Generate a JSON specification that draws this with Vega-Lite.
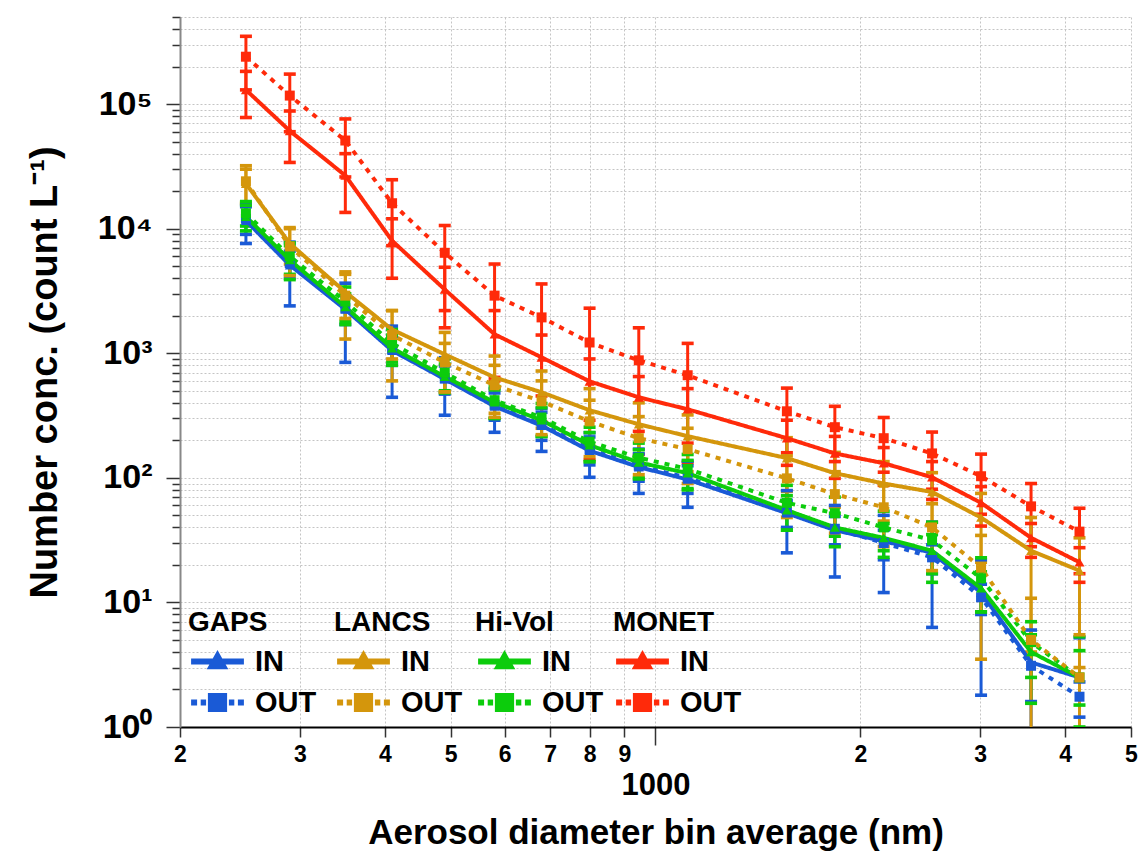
{
  "$schema": "https://vega.github.io/schema/vega-lite/v6.json",
  "width": 951,
  "height": 710,
  "autosize": {"type": "none"},
  "padding": {"left": 180, "top": 17, "right": 10, "bottom": 130},
  "background": "white",
  "config": {
    "view": {"stroke": null},
    "font": "Liberation Sans, Arial, sans-serif",
    "axis": {"labelFont": "Liberation Sans, Arial, sans-serif", "titleFont": "Liberation Sans, Arial, sans-serif"},
    "legend": {"labelFont": "Liberation Sans, Arial, sans-serif", "titleFont": "Liberation Sans, Arial, sans-serif"}
  },
  "data": {
    "values": [
      {"inst":"MONET","type":"IN","d":250,"v":130000,"lo":78000,"hi":183000},
      {"inst":"MONET","type":"IN","d":290,"v":61000,"lo":34000,"hi":88000},
      {"inst":"MONET","type":"IN","d":350,"v":26700,"lo":13500,"hi":40000},
      {"inst":"MONET","type":"IN","d":410,"v":8000,"lo":4000,"hi":12000},
      {"inst":"MONET","type":"IN","d":490,"v":3250,"lo":1600,"hi":4900},
      {"inst":"MONET","type":"IN","d":580,"v":1420,"lo":640,"hi":2200},
      {"inst":"MONET","type":"IN","d":680,"v":927,"lo":454,"hi":1400},
      {"inst":"MONET","type":"IN","d":800,"v":595,"lo":290,"hi":900},
      {"inst":"MONET","type":"IN","d":945,"v":443,"lo":236,"hi":650},
      {"inst":"MONET","type":"IN","d":1115,"v":355,"lo":190,"hi":520},
      {"inst":"MONET","type":"IN","d":1560,"v":208,"lo":126,"hi":290},
      {"inst":"MONET","type":"IN","d":1835,"v":157,"lo":99,"hi":215},
      {"inst":"MONET","type":"IN","d":2165,"v":131,"lo":87,"hi":175},
      {"inst":"MONET","type":"IN","d":2550,"v":101,"lo":67,"hi":135},
      {"inst":"MONET","type":"IN","d":3010,"v":63,"lo":41,"hi":85},
      {"inst":"MONET","type":"IN","d":3565,"v":33,"lo":23,"hi":43},
      {"inst":"MONET","type":"IN","d":4200,"v":21,"lo":14.5,"hi":27.5},
      {"inst":"MONET","type":"OUT","d":250,"v":240000,"lo":130000,"hi":350000},
      {"inst":"MONET","type":"OUT","d":290,"v":117000,"lo":60000,"hi":174000},
      {"inst":"MONET","type":"OUT","d":350,"v":51000,"lo":26000,"hi":76000},
      {"inst":"MONET","type":"OUT","d":410,"v":16000,"lo":7300,"hi":24700},
      {"inst":"MONET","type":"OUT","d":490,"v":6400,"lo":2200,"hi":10600},
      {"inst":"MONET","type":"OUT","d":580,"v":2900,"lo":600,"hi":5200},
      {"inst":"MONET","type":"OUT","d":680,"v":1940,"lo":280,"hi":3600},
      {"inst":"MONET","type":"OUT","d":800,"v":1220,"lo":140,"hi":2300},
      {"inst":"MONET","type":"OUT","d":945,"v":877,"lo":154,"hi":1600},
      {"inst":"MONET","type":"OUT","d":1115,"v":666,"lo":132,"hi":1200},
      {"inst":"MONET","type":"OUT","d":1560,"v":342,"lo":159,"hi":525},
      {"inst":"MONET","type":"OUT","d":1835,"v":255,"lo":135,"hi":375},
      {"inst":"MONET","type":"OUT","d":2165,"v":208,"lo":111,"hi":305},
      {"inst":"MONET","type":"OUT","d":2550,"v":157,"lo":81,"hi":233},
      {"inst":"MONET","type":"OUT","d":3010,"v":103,"lo":51,"hi":155},
      {"inst":"MONET","type":"OUT","d":3565,"v":59,"lo":28,"hi":90},
      {"inst":"MONET","type":"OUT","d":4200,"v":37,"lo":17,"hi":57},
      {"inst":"GAPS","type":"IN","d":250,"v":11600,"lo":7600,"hi":15600},
      {"inst":"GAPS","type":"IN","d":290,"v":5100,"lo":2400,"hi":7800},
      {"inst":"GAPS","type":"IN","d":350,"v":2250,"lo":845,"hi":3650},
      {"inst":"GAPS","type":"IN","d":410,"v":1050,"lo":443,"hi":1650},
      {"inst":"GAPS","type":"IN","d":490,"v":620,"lo":318,"hi":920},
      {"inst":"GAPS","type":"IN","d":580,"v":375,"lo":232,"hi":520},
      {"inst":"GAPS","type":"IN","d":680,"v":262,"lo":163,"hi":360},
      {"inst":"GAPS","type":"IN","d":800,"v":165,"lo":101,"hi":230},
      {"inst":"GAPS","type":"IN","d":945,"v":122,"lo":75,"hi":170},
      {"inst":"GAPS","type":"IN","d":1115,"v":97,"lo":58,"hi":136},
      {"inst":"GAPS","type":"IN","d":1560,"v":52,"lo":25,"hi":79},
      {"inst":"GAPS","type":"IN","d":1835,"v":38,"lo":16,"hi":60},
      {"inst":"GAPS","type":"IN","d":2165,"v":31,"lo":12,"hi":50},
      {"inst":"GAPS","type":"IN","d":2550,"v":25,"lo":6.3,"hi":44},
      {"inst":"GAPS","type":"IN","d":3010,"v":12,"lo":1.8,"hi":22},
      {"inst":"GAPS","type":"IN","d":3565,"v":3.3,"lo":0.6,"hi":6},
      {"inst":"GAPS","type":"IN","d":4200,"v":2.5,"lo":0.1,"hi":5.2},
      {"inst":"GAPS","type":"OUT","d":250,"v":12000,"lo":9000,"hi":15000},
      {"inst":"GAPS","type":"OUT","d":290,"v":5300,"lo":4000,"hi":6600},
      {"inst":"GAPS","type":"OUT","d":350,"v":2300,"lo":1700,"hi":2900},
      {"inst":"GAPS","type":"OUT","d":410,"v":1080,"lo":800,"hi":1360},
      {"inst":"GAPS","type":"OUT","d":490,"v":630,"lo":470,"hi":790},
      {"inst":"GAPS","type":"OUT","d":580,"v":385,"lo":290,"hi":480},
      {"inst":"GAPS","type":"OUT","d":680,"v":268,"lo":200,"hi":336},
      {"inst":"GAPS","type":"OUT","d":800,"v":170,"lo":127,"hi":213},
      {"inst":"GAPS","type":"OUT","d":945,"v":125,"lo":94,"hi":156},
      {"inst":"GAPS","type":"OUT","d":1115,"v":100,"lo":75,"hi":125},
      {"inst":"GAPS","type":"OUT","d":1560,"v":53,"lo":40,"hi":66},
      {"inst":"GAPS","type":"OUT","d":1835,"v":39,"lo":29,"hi":49},
      {"inst":"GAPS","type":"OUT","d":2165,"v":30,"lo":22,"hi":38},
      {"inst":"GAPS","type":"OUT","d":2550,"v":23,"lo":17,"hi":29},
      {"inst":"GAPS","type":"OUT","d":3010,"v":11,"lo":8,"hi":14},
      {"inst":"GAPS","type":"OUT","d":3565,"v":3.1,"lo":1.6,"hi":4.6},
      {"inst":"GAPS","type":"OUT","d":4200,"v":1.75,"lo":1.2,"hi":2.3},
      {"inst":"Hi-Vol","type":"IN","d":250,"v":12500,"lo":9600,"hi":15400},
      {"inst":"Hi-Vol","type":"IN","d":290,"v":5600,"lo":3900,"hi":7300},
      {"inst":"Hi-Vol","type":"IN","d":350,"v":2350,"lo":1700,"hi":3000},
      {"inst":"Hi-Vol","type":"IN","d":410,"v":1100,"lo":800,"hi":1400},
      {"inst":"Hi-Vol","type":"IN","d":490,"v":650,"lo":480,"hi":820},
      {"inst":"Hi-Vol","type":"IN","d":580,"v":404,"lo":300,"hi":508},
      {"inst":"Hi-Vol","type":"IN","d":680,"v":290,"lo":215,"hi":365},
      {"inst":"Hi-Vol","type":"IN","d":800,"v":183,"lo":135,"hi":231},
      {"inst":"Hi-Vol","type":"IN","d":945,"v":133,"lo":98,"hi":168},
      {"inst":"Hi-Vol","type":"IN","d":1115,"v":109,"lo":80,"hi":138},
      {"inst":"Hi-Vol","type":"IN","d":1560,"v":55,"lo":38,"hi":72},
      {"inst":"Hi-Vol","type":"IN","d":1835,"v":40,"lo":28,"hi":52},
      {"inst":"Hi-Vol","type":"IN","d":2165,"v":33,"lo":23,"hi":43},
      {"inst":"Hi-Vol","type":"IN","d":2550,"v":26,"lo":17,"hi":35},
      {"inst":"Hi-Vol","type":"IN","d":3010,"v":13,"lo":8.4,"hi":17.6},
      {"inst":"Hi-Vol","type":"IN","d":3565,"v":4.0,"lo":2.5,"hi":5.5},
      {"inst":"Hi-Vol","type":"IN","d":4200,"v":2.5,"lo":1.5,"hi":4.1},
      {"inst":"Hi-Vol","type":"OUT","d":250,"v":13300,"lo":10500,"hi":16500},
      {"inst":"Hi-Vol","type":"OUT","d":290,"v":6000,"lo":4300,"hi":7700},
      {"inst":"Hi-Vol","type":"OUT","d":350,"v":2600,"lo":1800,"hi":3400},
      {"inst":"Hi-Vol","type":"OUT","d":410,"v":1200,"lo":850,"hi":1550},
      {"inst":"Hi-Vol","type":"OUT","d":490,"v":700,"lo":500,"hi":900},
      {"inst":"Hi-Vol","type":"OUT","d":580,"v":420,"lo":300,"hi":540},
      {"inst":"Hi-Vol","type":"OUT","d":680,"v":305,"lo":215,"hi":395},
      {"inst":"Hi-Vol","type":"OUT","d":800,"v":195,"lo":135,"hi":255},
      {"inst":"Hi-Vol","type":"OUT","d":945,"v":145,"lo":100,"hi":190},
      {"inst":"Hi-Vol","type":"OUT","d":1115,"v":118,"lo":82,"hi":154},
      {"inst":"Hi-Vol","type":"OUT","d":1560,"v":63,"lo":38,"hi":87},
      {"inst":"Hi-Vol","type":"OUT","d":1835,"v":52,"lo":34,"hi":70},
      {"inst":"Hi-Vol","type":"OUT","d":2165,"v":40,"lo":26,"hi":54},
      {"inst":"Hi-Vol","type":"OUT","d":2550,"v":31.6,"lo":14.5,"hi":44},
      {"inst":"Hi-Vol","type":"OUT","d":3010,"v":15.6,"lo":8.4,"hi":22.8},
      {"inst":"Hi-Vol","type":"OUT","d":3565,"v":4.8,"lo":1.55,"hi":7},
      {"inst":"Hi-Vol","type":"OUT","d":4200,"v":2.5,"lo":1.0,"hi":5.3},
      {"inst":"LANCS","type":"IN","d":250,"v":23000,"lo":16000,"hi":30000},
      {"inst":"LANCS","type":"IN","d":290,"v":7600,"lo":5200,"hi":10000},
      {"inst":"LANCS","type":"IN","d":350,"v":3100,"lo":1900,"hi":4300},
      {"inst":"LANCS","type":"IN","d":410,"v":1550,"lo":900,"hi":2200},
      {"inst":"LANCS","type":"IN","d":490,"v":980,"lo":490,"hi":1470},
      {"inst":"LANCS","type":"IN","d":580,"v":640,"lo":330,"hi":950},
      {"inst":"LANCS","type":"IN","d":680,"v":486,"lo":250,"hi":720},
      {"inst":"LANCS","type":"IN","d":800,"v":349,"lo":180,"hi":520},
      {"inst":"LANCS","type":"IN","d":945,"v":269,"lo":140,"hi":400},
      {"inst":"LANCS","type":"IN","d":1115,"v":216,"lo":112,"hi":320},
      {"inst":"LANCS","type":"IN","d":1560,"v":144,"lo":78,"hi":210},
      {"inst":"LANCS","type":"IN","d":1835,"v":109,"lo":58,"hi":160},
      {"inst":"LANCS","type":"IN","d":2165,"v":90,"lo":45,"hi":135},
      {"inst":"LANCS","type":"IN","d":2550,"v":77,"lo":44,"hi":110},
      {"inst":"LANCS","type":"IN","d":3010,"v":48,"lo":21,"hi":75},
      {"inst":"LANCS","type":"IN","d":3565,"v":26,"lo":4,"hi":48},
      {"inst":"LANCS","type":"IN","d":4200,"v":18,"lo":3,"hi":33},
      {"inst":"LANCS","type":"OUT","d":250,"v":24000,"lo":16000,"hi":32000},
      {"inst":"LANCS","type":"OUT","d":290,"v":7200,"lo":4200,"hi":10200},
      {"inst":"LANCS","type":"OUT","d":350,"v":2900,"lo":1300,"hi":4500},
      {"inst":"LANCS","type":"OUT","d":410,"v":1400,"lo":600,"hi":2200},
      {"inst":"LANCS","type":"OUT","d":490,"v":845,"lo":490,"hi":1200},
      {"inst":"LANCS","type":"OUT","d":580,"v":553,"lo":306,"hi":800},
      {"inst":"LANCS","type":"OUT","d":680,"v":411,"lo":222,"hi":600},
      {"inst":"LANCS","type":"OUT","d":800,"v":284,"lo":148,"hi":420},
      {"inst":"LANCS","type":"OUT","d":945,"v":208,"lo":106,"hi":310},
      {"inst":"LANCS","type":"OUT","d":1115,"v":170,"lo":90,"hi":250},
      {"inst":"LANCS","type":"OUT","d":1560,"v":99,"lo":48,"hi":150},
      {"inst":"LANCS","type":"OUT","d":1835,"v":74,"lo":36,"hi":112},
      {"inst":"LANCS","type":"OUT","d":2165,"v":58,"lo":28,"hi":88},
      {"inst":"LANCS","type":"OUT","d":2550,"v":40,"lo":18,"hi":62},
      {"inst":"LANCS","type":"OUT","d":3010,"v":19,"lo":3.5,"hi":34.5},
      {"inst":"LANCS","type":"OUT","d":3565,"v":5,"lo":0.1,"hi":10.8},
      {"inst":"LANCS","type":"OUT","d":4200,"v":2.5,"lo":0.1,"hi":5.5}
    ]
  },
  "layer": [
    {
      "encoding": {
        "x": {
          "field": "d", "type": "quantitative",
          "scale": {"type": "log", "domain": [200, 5000], "nice": false},
          "axis": {
            "title": "Aerosol diameter bin average (nm)",
            "titleFontSize": 35, "titleFontWeight": "bold", "titleColor": "black", "titlePadding": 15,
            "values": [200,300,400,500,600,700,800,900,1000,2000,3000,4000,5000],
            "labelExpr": "datum.value == 1000 ? ['', '1000'] : (datum.value < 1000 ? '' + round(datum.value/100) : '' + round(datum.value/1000))",
            "labelFontSize": {"condition": {"test": "datum.value == 1000", "value": 31}, "value": 23},
            "labelLineHeight": 19,
            "labelFontWeight": "bold", "labelColor": "black", "labelPadding": 6,
            "labelOverlap": false, "labelFlush": false, "labelBound": false,
            "tickSize": {"condition": {"test": "datum.value == 1000", "value": 18}, "value": 10},
            "tickColor": "#333", "tickWidth": 1.5,
            "domainColor": "black", "domainWidth": 2,
            "grid": true, "gridColor": "#c4c4c4", "gridDash": [2, 2], "gridWidth": 1
          }
        },
        "color": {
          "field": "inst", "type": "nominal",
          "scale": {"domain": ["GAPS", "LANCS", "Hi-Vol", "MONET"], "range": ["#1a5ad6", "#d4960c", "#0ccc0c", "#ff2a0a"]},
          "legend": null
        }
      },
      "layer": [
        {
          "mark": {"type": "rule", "clip": true, "strokeWidth": 3},
          "encoding": {
            "y": {
              "field": "lo", "type": "quantitative",
              "scale": {"type": "log", "domain": [1, 500000], "nice": false},
              "axis": {
                "title": "Number conc. (count L⁻¹)",
                "titleFontSize": 38, "titleFontWeight": "bold", "titleColor": "black", "titlePadding": 33,
                "values": [1,2,3,4,5,6,7,8,9,10,20,30,40,50,60,70,80,90,100,200,300,400,500,600,700,800,900,1000,2000,3000,4000,5000,6000,7000,8000,9000,10000,20000,30000,40000,50000,60000,70000,80000,90000,100000,200000,300000,400000,500000],
                "labelExpr": "abs(log(datum.value)/LN10 - round(log(datum.value)/LN10)) < 0.001 ? '10' + ['⁰','¹','²','³','⁴','⁵'][round(log(datum.value)/LN10)] : ''",
                "labelFontSize": 34, "labelFontWeight": "bold", "labelColor": "black", "labelPadding": 14,
                "labelOverlap": false, "labelFlush": false, "labelBound": false,
                "tickSize": {"condition": {"test": "abs(log(datum.value)/LN10 - round(log(datum.value)/LN10)) < 0.001", "value": 14}, "value": 8},
                "tickColor": "#333", "tickWidth": 1.5,
                "domainColor": "#888888", "domainWidth": 2,
                "grid": true, "gridColor": "#c4c4c4", "gridDash": [2, 2], "gridWidth": 1
              }
            },
            "y2": {"field": "hi"}
          }
        },
        {
          "mark": {"type": "point", "clip": true, "filled": true, "opacity": 1, "shape": "M-1,-0.3H1V0.3H-1Z", "size": 144},
          "encoding": {"y": {"field": "lo", "type": "quantitative"}}
        },
        {
          "mark": {"type": "point", "clip": true, "filled": true, "opacity": 1, "shape": "M-1,-0.3H1V0.3H-1Z", "size": 144},
          "encoding": {"y": {"field": "hi", "type": "quantitative"}}
        },
        {
          "mark": {"type": "line", "strokeWidth": 4, "strokeCap": "butt", "clip": true},
          "encoding": {
            "y": {"field": "v", "type": "quantitative"},
            "strokeDash": {"field": "type", "type": "nominal", "scale": {"domain": ["IN", "OUT"], "range": [[1, 0], [5, 6]]}, "legend": null}
          }
        },
        {
          "mark": {"type": "point", "filled": true, "opacity": 1, "size": 100, "clip": true},
          "encoding": {
            "y": {"field": "v", "type": "quantitative"},
            "shape": {"field": "type", "type": "nominal", "scale": {"domain": ["IN", "OUT"], "range": ["triangle-up", "square"]}, "legend": null}
          }
        }
      ]
    },
    {
      "transform": [{"filter": "datum.inst == 'none'"}],
      "mark": {"type": "point", "filled": true, "color": "#1a5ad6"},
      "encoding": {
        "shape": {
          "field": "type", "type": "nominal",
          "scale": {"domain": ["IN", "OUT"], "range": ["M-2.2,-0.25H2.2V0.25H-2.2Z M-0.9,0.65L0,-0.95L0.9,0.65Z", "M-2.2,-0.25H-1.7V0.25H-2.2Z M-1.4,-0.25H-0.95V0.25H-1.4Z M-0.8,-0.8H0.8V0.8H-0.8Z M0.95,-0.25H1.4V0.25H0.95Z M1.7,-0.25H2.2V0.25H1.7Z"]},
          "legend": {"title": "GAPS", "orient": "none", "legendX": 8, "legendY": 592, "symbolSize": 576, "symbolFillColor": "#1a5ad6", "symbolStrokeWidth": 0, "symbolOpacity": 1, "symbolOffset": 15, "labelOffset": 23, "labelFontSize": 29, "labelFontWeight": "bold", "labelColor": "black", "titleFontSize": 28, "titleFontWeight": "bold", "titleColor": "black", "titlePadding": 10, "rowPadding": 11, "padding": 0}
        }
      }
    },
    {
      "transform": [{"filter": "datum.inst == 'none'"}],
      "mark": {"type": "point", "filled": true, "color": "#d4960c"},
      "encoding": {
        "shape": {
          "field": "type", "type": "nominal",
          "scale": {"domain": ["IN", "OUT"], "range": ["M-2.2,-0.25H2.2V0.25H-2.2Z M-0.9,0.65L0,-0.95L0.9,0.65Z", "M-2.2,-0.25H-1.7V0.25H-2.2Z M-1.4,-0.25H-0.95V0.25H-1.4Z M-0.8,-0.8H0.8V0.8H-0.8Z M0.95,-0.25H1.4V0.25H0.95Z M1.7,-0.25H2.2V0.25H1.7Z"]},
          "legend": {"title": "LANCS", "orient": "none", "legendX": 154, "legendY": 592, "symbolSize": 576, "symbolFillColor": "#d4960c", "symbolStrokeWidth": 0, "symbolOpacity": 1, "symbolOffset": 15, "labelOffset": 23, "labelFontSize": 29, "labelFontWeight": "bold", "labelColor": "black", "titleFontSize": 28, "titleFontWeight": "bold", "titleColor": "black", "titlePadding": 10, "rowPadding": 11, "padding": 0}
        }
      }
    },
    {
      "transform": [{"filter": "datum.inst == 'none'"}],
      "mark": {"type": "point", "filled": true, "color": "#0ccc0c"},
      "encoding": {
        "shape": {
          "field": "type", "type": "nominal",
          "scale": {"domain": ["IN", "OUT"], "range": ["M-2.2,-0.25H2.2V0.25H-2.2Z M-0.9,0.65L0,-0.95L0.9,0.65Z", "M-2.2,-0.25H-1.7V0.25H-2.2Z M-1.4,-0.25H-0.95V0.25H-1.4Z M-0.8,-0.8H0.8V0.8H-0.8Z M0.95,-0.25H1.4V0.25H0.95Z M1.7,-0.25H2.2V0.25H1.7Z"]},
          "legend": {"title": "Hi-Vol", "orient": "none", "legendX": 295, "legendY": 592, "symbolSize": 576, "symbolFillColor": "#0ccc0c", "symbolStrokeWidth": 0, "symbolOpacity": 1, "symbolOffset": 15, "labelOffset": 23, "labelFontSize": 29, "labelFontWeight": "bold", "labelColor": "black", "titleFontSize": 28, "titleFontWeight": "bold", "titleColor": "black", "titlePadding": 10, "rowPadding": 11, "padding": 0}
        }
      }
    },
    {
      "transform": [{"filter": "datum.inst == 'none'"}],
      "mark": {"type": "point", "filled": true, "color": "#ff2a0a"},
      "encoding": {
        "shape": {
          "field": "type", "type": "nominal",
          "scale": {"domain": ["IN", "OUT"], "range": ["M-2.2,-0.25H2.2V0.25H-2.2Z M-0.9,0.65L0,-0.95L0.9,0.65Z", "M-2.2,-0.25H-1.7V0.25H-2.2Z M-1.4,-0.25H-0.95V0.25H-1.4Z M-0.8,-0.8H0.8V0.8H-0.8Z M0.95,-0.25H1.4V0.25H0.95Z M1.7,-0.25H2.2V0.25H1.7Z"]},
          "legend": {"title": "MONET", "orient": "none", "legendX": 433, "legendY": 592, "symbolSize": 576, "symbolFillColor": "#ff2a0a", "symbolStrokeWidth": 0, "symbolOpacity": 1, "symbolOffset": 15, "labelOffset": 23, "labelFontSize": 29, "labelFontWeight": "bold", "labelColor": "black", "titleFontSize": 28, "titleFontWeight": "bold", "titleColor": "black", "titlePadding": 10, "rowPadding": 11, "padding": 0}
        }
      }
    }
  ],
  "resolve": {"scale": {"shape": "independent"}}
}
